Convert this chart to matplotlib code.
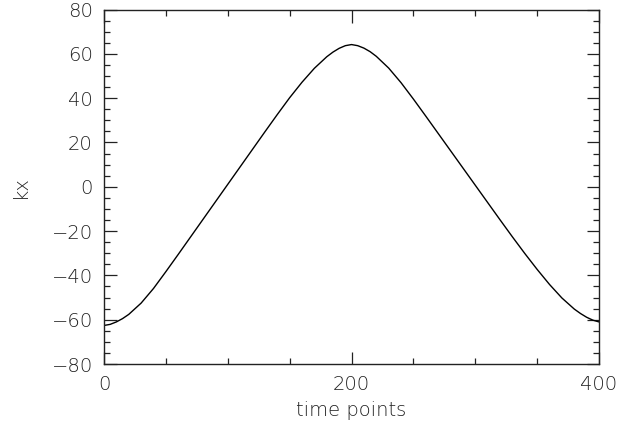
"""Recreate the kx vs time points trace (IDL-style line plot)."""

import matplotlib

matplotlib.use("Agg")
import matplotlib.pyplot as plt
from matplotlib.ticker import MultipleLocator

# values (extra samples where the curve bends)
time_points = [
    0, 5, 10, 15, 20, 30, 40, 50, 60, 70, 80, 90,
    100, 110, 120, 130, 140, 150, 160, 170, 180, 185, 190, 195,
    200, 205, 210, 215, 220, 230, 240, 250, 260, 270, 280, 290,
    300, 310, 320, 330, 340, 350, 360, 370, 380, 385, 390, 395, 400,
]
kx = [
    -62.6, -62.1, -61.0, -59.5, -57.6, -52.5, -45.9, -38.3, -30.5, -22.6, -14.7, -6.8,
    1.1, 9.0, 16.9, 24.8, 32.6, 40.2, 47.2, 53.5, 58.7, 60.8, 62.5, 63.7,
    64.2, 63.7, 62.6, 61.0, 58.9, 53.6, 47.0, 39.6, 31.9, 24.1, 16.3, 8.5,
    0.7, -7.1, -14.9, -22.6, -30.1, -37.3, -44.1, -50.2, -55.2, -57.2, -58.9, -60.2, -61.0,
]
x_ticks = [0, 200, 400]
y_ticks = [-80, -60, -40, -20, 0, 20, 40, 60, 80]

INK = "#222222"

plt.rcParams["font.family"] = ["DejaVu Sans"]

fig = plt.figure(figsize=(6.4, 4.25), dpi=100)
ax = fig.add_axes([0.1625, 0.1435, 0.7735, 0.834])

ax.plot(time_points, kx, color="black", lw=1.0)

ax.set_xlim(0, 400)
ax.set_ylim(-80, 80)
ax.set_xticks(x_ticks)
ax.set_yticks(y_ticks)
ax.xaxis.set_minor_locator(MultipleLocator(50))
ax.yaxis.set_minor_locator(MultipleLocator(5))

ax.tick_params(which="both", direction="in", top=True, right=True,
               color=INK, width=0.9)
ax.tick_params(which="major", length=9, labelsize=14, labelcolor=INK, pad=8)
ax.tick_params(which="minor", length=4.5)
for sp in ax.spines.values():
    sp.set_color(INK)
    sp.set_linewidth(1.0)

for lab in ax.get_xticklabels() + ax.get_yticklabels():
    lab.set_fontweight("light")

ax.set_xlabel("time points", fontsize=14, color=INK, labelpad=5,
              fontweight="light")
ax.set_ylabel("kx", fontsize=14, color=INK, labelpad=16, fontweight="light")

fig.savefig("out.png", dpi=100)
